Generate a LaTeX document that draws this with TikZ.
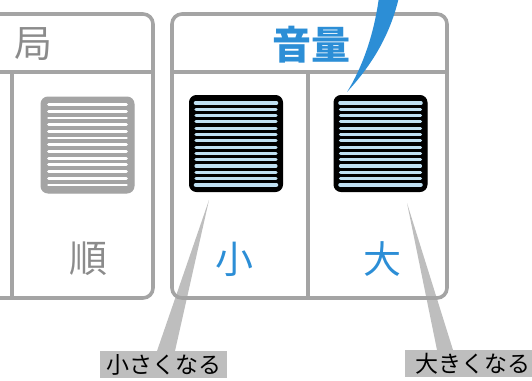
\documentclass[tikz,border=0pt]{standalone}
\usepackage{fontspec}
\setmainfont{Noto Sans CJK JP}
\usetikzlibrary{positioning, calc}
\definecolor{framegray}{HTML}{A4A4A4}
\definecolor{volblue}{HTML}{2C8ED6}
\definecolor{stripeblue}{HTML}{BFE0F2}
\definecolor{taggray}{HTML}{BEBEBE}
\tikzset{
  panel/.style={draw=framegray, line width=3.6pt, rounded corners=10pt},
  panelline/.style={draw=framegray, line width=3.6pt},
  keycap/.style={rectangle, rounded corners=7pt, draw=#1, fill=#1, line width=1pt,
                 minimum width=93pt, minimum height=96pt, inner sep=0pt},
  keycap/.default=black,
  stripe/.style={draw=#1, line width=3.1pt, line cap=round},
  stripe/.default=stripeblue,
  keytxt/.style={font=\fontsize{38}{38}\selectfont, text=#1},
  keytxt/.default=volblue,
  tag/.style={rectangle, fill=taggray, inner sep=0pt, minimum height=27pt,
              font=\fontsize{23}{23}\selectfont, text=black},
  pointer/.style={fill=taggray},
}

\begin{document}
\begin{tikzpicture}[x=1pt, y=-1pt, every node/.style={inner sep=0pt}]
  \useasboundingbox (0,0) rectangle (532,380);
  % callouts and their pointers
  \node[tag, anchor=north west, minimum width=127pt] (tagsmall) at (100,351) {小さくなる};
  \node[tag, anchor=north west, minimum width=132pt] (tagbig) at (405,350) {\hspace{4pt}大きくなる};
  \coordinate (tipsmall) at (209,200);
  \coordinate (tipbig) at (407,203);
  \fill[pointer] (tipsmall) -- ($(tagsmall.north west)+(57,0)$) -- ($(tagsmall.north west)+(75,0)$) -- cycle;
  \fill[pointer] (tipbig) -- ($(tagbig.north west)+(32,0)$) -- ($(tagbig.north west)+(48,0)$) -- cycle;

  % left panel, cut off at the edge
  \draw[panel] (-10,14) -- (153,14) -- (153,298) -- (-10,298);
  \draw[panelline] (-10,72) -- (153,72);
  \draw[panelline] (12,72) -- (12,298);
  % volume panel
  \draw[panel] (172,14) rectangle (447,298);
  \draw[panelline] (172,72) -- (447,72);
  \draw[panelline] (308,72) -- (308,298);

  % labels
  \node[keytxt=framegray!85!black] (kyoku) at (33,44) {局};
  \node[keytxt=framegray!85!black] (jun) at (88,259) {順};
  \node[keytxt, font=\fontsize{39}{39}\selectfont\bfseries] (onryo) at (311,45) {音量};
  \node[keytxt] (sho) at (234,259) {小};
  \node[keytxt] (dai) at (382,259) {大};

  % buttons
  \node[keycap=framegray] (keyseek) at (87.5,145) {};
  \node[keycap] (keyquiet) at (236,143.5) {};
  \node[keycap] (keyloud) at (380.5,143.5) {};
  \foreach \i in {0,...,12}
    \draw[stripe=white, line width=2.8pt] ($(keyseek.north west)+(8,8+\i*6.7)$) -- ($(keyseek.north east)+(-8,8+\i*6.7)$);
  \foreach \k in {keyquiet, keyloud} {
    \foreach \i in {0,...,13}
      \draw[stripe] ($(\k.north west)+(7,8+\i*6.3)$) -- ($(\k.north east)+(-7,8+\i*6.3)$);
    \draw[stripe, line width=4.6pt] ($(\k.north west)+(7,8)$) -- ($(\k.north east)+(-7,8)$);
    \draw[stripe, line width=4.6pt] ($(\k.north west)+(7,89.9)$) -- ($(\k.north east)+(-7,89.9)$);
  }

  % blue swoosh
  \fill[volblue] (379,-3) .. controls (374,35) and (362,68) .. (347,92)
    .. controls (371,66) and (390,36) .. (399,-3) -- cycle;
\end{tikzpicture}
\end{document}
